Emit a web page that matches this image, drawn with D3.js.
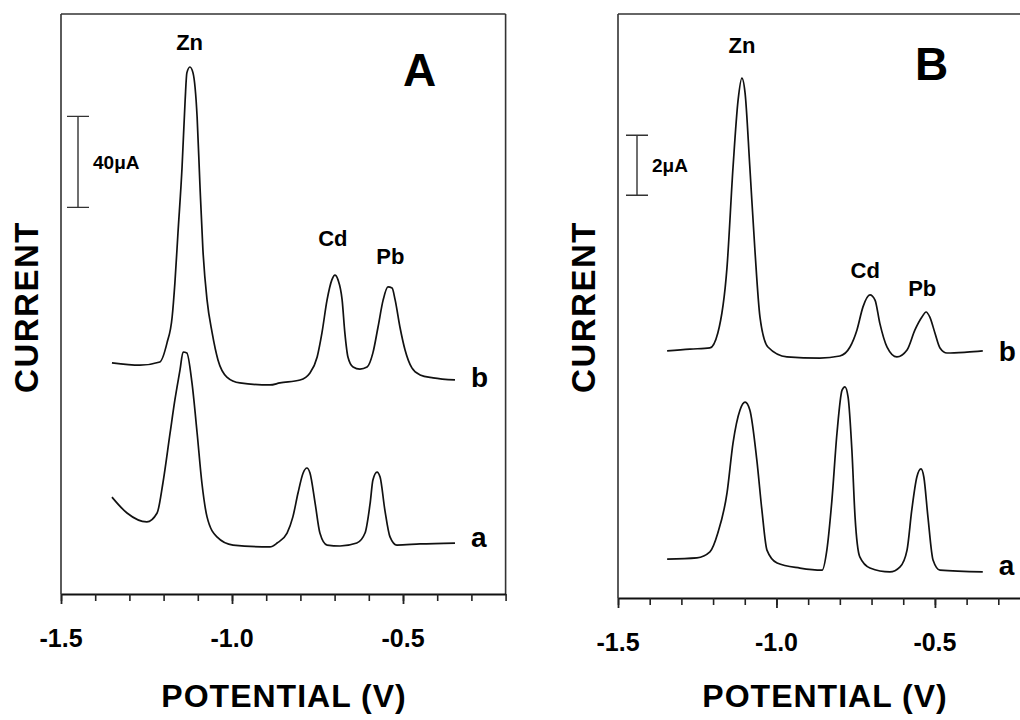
<!DOCTYPE html>
<html>
<head>
<meta charset="utf-8">
<script src="https://cdn.jsdelivr.net/npm/d3@7"></script>
<style>
  body { margin: 0; background: #fff; }
  svg { display: block; font-family: "Liberation Sans", Arial, sans-serif; }
</style>
</head>
<body>
<svg width="1020" height="720"></svg>
<script>
// stripping voltammograms, potential in V, current in uA (as drawn, offsets included)

// panel A, trace b (upper)
var vAb = [-1.351, -1.269, -1.211, -1.190, -1.175, -1.167, -1.158, -1.146, -1.137, -1.132, -1.123, -1.114, -1.102, -1.094, -1.085, -1.073, -1.058, -1.041, -1.015, -0.977, -0.889, -0.860, -0.801, -0.772, -0.751, -0.737, -0.722, -0.708, -0.699, -0.690, -0.678, -0.670, -0.661, -0.646, -0.626, -0.605, -0.588, -0.573, -0.558, -0.544, -0.532, -0.523, -0.509, -0.494, -0.474, -0.450, -0.412, -0.348];
var iAb = [101.6, 100.6, 102.0, 110.4, 121.8, 136.7, 158.7, 187.7, 217.2, 229.1, 231.7, 229.1, 209.7, 180.7, 151.2, 129.3, 114.8, 102.9, 95.4, 92.8, 91.9, 92.8, 94.1, 97.2, 104.2, 114.8, 129.3, 138.1, 140.2, 138.1, 129.3, 114.8, 104.2, 99.8, 98.9, 99.8, 106.0, 117.4, 129.3, 135.0, 134.5, 129.3, 117.4, 107.3, 99.4, 96.3, 95.0, 94.1];

// panel A, trace a (lower)
var vAa = [-1.351, -1.307, -1.249, -1.219, -1.202, -1.181, -1.167, -1.152, -1.143, -1.132, -1.117, -1.102, -1.088, -1.073, -1.044, -0.997, -0.889, -0.868, -0.839, -0.822, -0.807, -0.792, -0.781, -0.772, -0.757, -0.743, -0.722, -0.684, -0.635, -0.611, -0.596, -0.588, -0.576, -0.567, -0.553, -0.538, -0.518, -0.450, -0.348];
var iAa = [42.6, 35.6, 31.7, 35.6, 48.8, 70.8, 85.3, 98.5, 106.4, 106.0, 92.8, 70.8, 48.8, 33.9, 25.1, 21.5, 20.7, 22.4, 26.8, 33.9, 44.4, 53.2, 55.4, 53.2, 40.0, 26.8, 21.5, 21.1, 22.4, 26.8, 40.0, 50.1, 53.6, 51.4, 36.9, 25.1, 21.5, 22.0, 22.4];

// panel B, trace b (upper)
var vBb = [-1.345, -1.273, -1.210, -1.185, -1.156, -1.137, -1.121, -1.109, -1.099, -1.084, -1.068, -1.052, -1.027, -0.967, -0.863, -0.800, -0.768, -0.746, -0.727, -0.705, -0.689, -0.674, -0.651, -0.620, -0.588, -0.563, -0.541, -0.528, -0.516, -0.500, -0.484, -0.462, -0.399, -0.349];
var iBb = [8.25, 8.31, 8.35, 8.85, 11.05, 14.39, 16.63, 17.36, 16.86, 14.39, 11.62, 9.38, 8.38, 8.05, 8.01, 8.08, 8.38, 8.95, 9.72, 10.12, 9.95, 9.18, 8.38, 8.05, 8.28, 8.95, 9.38, 9.55, 9.38, 8.85, 8.35, 8.18, 8.21, 8.25];

// panel B, trace a (lower)
var vBa = [-1.345, -1.251, -1.210, -1.185, -1.156, -1.137, -1.115, -1.099, -1.084, -1.062, -1.046, -1.030, -0.998, -0.926, -0.856, -0.841, -0.825, -0.809, -0.793, -0.784, -0.774, -0.762, -0.752, -0.737, -0.705, -0.642, -0.610, -0.588, -0.573, -0.557, -0.544, -0.535, -0.522, -0.506, -0.484, -0.349];
var iBa = [1.30, 1.34, 1.54, 2.17, 3.51, 5.18, 6.28, 6.54, 6.28, 4.61, 2.94, 1.60, 1.17, 1.00, 0.93, 1.60, 3.27, 5.51, 6.94, 7.05, 6.71, 4.94, 2.70, 1.37, 1.00, 0.87, 1.04, 1.60, 2.94, 4.04, 4.31, 4.04, 2.70, 1.27, 0.93, 0.87];

// axis ticks
var minorTicks = [-1.5, -1.4, -1.3, -1.2, -1.1, -1.0, -0.9, -0.8, -0.7, -0.6, -0.5, -0.4, -0.3, -0.2];
var majorTicks = [-1.5, -1.0, -0.5];
var majorLabels = ["-1.5", "-1.0", "-0.5"];

// peak labels: [name, potential, current]
var peaksA = [["Zn", -1.124, 239], ["Cd", -0.705, 153], ["Pb", -0.537, 145]];
var peaksB = [["Zn", -1.109, 18.2], ["Cd", -0.72, 10.7], ["Pb", -0.54, 10.1]];

var svg = d3.select("svg");

function drawPanel(p) {
  var x = d3.scaleLinear().domain([-1.5, -0.2]).range([p.left, p.right]);
  var y = d3.scaleLinear().domain([0, p.ymax]).range([p.bottom, p.top]);
  var g = svg.append("g");

  // frame
  g.append("line").attr("x1", p.left).attr("x2", p.left).attr("y1", p.top).attr("y2", p.bottom)
    .attr("stroke", "#333").attr("stroke-width", 1.6);
  g.append("line").attr("x1", p.left).attr("x2", p.right).attr("y1", p.top).attr("y2", p.top)
    .attr("stroke", "#333").attr("stroke-width", 1.6);
  if (p.boxRight) {
    g.append("line").attr("x1", p.right).attr("x2", p.right).attr("y1", p.top).attr("y2", p.bottom)
      .attr("stroke", "#333").attr("stroke-width", 1.6);
  }

  // bottom axis: minor ticks, then longer major ticks
  g.append("g").attr("transform", "translate(0," + p.bottom + ")")
    .call(d3.axisBottom(x).tickValues(minorTicks).tickSize(7).tickSizeOuter(0).tickFormat(""))
    .call(function(a) {
      a.select(".domain").attr("stroke", "#111").attr("stroke-width", 2);
      a.selectAll(".tick line").attr("stroke", "#222").attr("stroke-width", 1.6);
    });
  g.append("g").attr("transform", "translate(0," + p.bottom + ")")
    .call(d3.axisBottom(x).tickValues(majorTicks).tickSize(10).tickFormat(""))
    .call(function(a) {
      a.select(".domain").remove();
      a.selectAll(".tick line").attr("stroke", "#222").attr("stroke-width", 1.8);
    });

  g.selectAll(".tlab").data(majorTicks).enter().append("text")
    .attr("x", function(d) { return x(d); })
    .attr("y", p.bottom + 53)
    .attr("text-anchor", "middle")
    .attr("font-size", 25).attr("font-weight", "bold")
    .text(function(d, i) { return majorLabels[i]; });

  // axis titles
  g.append("text")
    .attr("x", p.xtitleX).attr("y", 707)
    .attr("text-anchor", "middle").attr("font-size", 32).attr("font-weight", "bold")
    .attr("letter-spacing", 1)
    .text("POTENTIAL (V)");
  g.append("text")
    .attr("transform", "translate(" + (p.left - p.ytitleGap) + ",307) rotate(-90)")
    .attr("text-anchor", "middle").attr("font-size", 33).attr("font-weight", "bold")
    .attr("letter-spacing", 1.5)
    .text("CURRENT");

  // panel letter
  g.append("text").attr("x", p.letterX).attr("y", p.letterY)
    .attr("font-size", 46).attr("font-weight", "bold").text(p.letter);

  // scale bar
  var sb = d3.line();
  var bx = p.barX, y0 = y(p.barBase), y1 = y(p.barBase + p.barVal);
  g.append("path").attr("d", sb([[bx - 11, y1], [bx + 11, y1]]) + sb([[bx, y1], [bx, y0]]) + sb([[bx - 11, y0], [bx + 11, y0]]))
    .attr("stroke", "#333").attr("stroke-width", 1.4).attr("fill", "none");
  g.append("text").attr("x", bx + 15).attr("y", (y0 + y1) / 2 + 7)
    .attr("font-size", 19).attr("font-weight", "bold").text(p.barVal + "\u03bcA");

  // traces
  var line = d3.line()
    .x(function(d) { return x(d[0]); })
    .y(function(d) { return y(d[1]); })
    .curve(d3.curveMonotoneX);
  p.traces.forEach(function(t) {
    var pts = t.v.map(function(v, i) { return [v, t.i[i]]; });
    g.append("path").datum(pts).attr("d", line)
      .attr("fill", "none").attr("stroke", "#111").attr("stroke-width", 1.7)
      .attr("stroke-linejoin", "round");
    var last = pts[pts.length - 1];
    g.append("text").attr("x", x(last[0]) + 16).attr("y", t.labelY)
      .attr("font-size", 28).attr("font-weight", "bold").text(t.name);
  });

  // peak labels
  g.selectAll(".pk").data(p.peaks).enter().append("text")
    .attr("x", function(d) { return x(d[1]); })
    .attr("y", function(d) { return y(d[2]); })
    .attr("text-anchor", "middle").attr("font-size", 22).attr("font-weight", "bold")
    .text(function(d) { return d[0]; });
}

drawPanel({
  left: 61, right: 505.6, top: 14, bottom: 594, ymax: 255, boxRight: true,
  xtitleX: 284, ytitleGap: 23, letter: "A", letterX: 403, letterY: 86,
  barX: 78, barBase: 170, barVal: 40,
  peaks: peaksA,
  traces: [{ v: vAb, i: iAb, name: "b", labelY: 387 }, { v: vAa, i: iAa, name: "a", labelY: 547 }]
});

drawPanel({
  left: 618, right: 1030, top: 14, bottom: 598, ymax: 19.5, boxRight: false,
  xtitleX: 825, ytitleGap: 23, letter: "B", letterX: 915, letterY: 80,
  barX: 637, barBase: 13.45, barVal: 2,
  peaks: peaksB,
  traces: [{ v: vBb, i: iBb, name: "b", labelY: 361 }, { v: vBa, i: iBa, name: "a", labelY: 575 }]
});
</script>
</body>
</html>
